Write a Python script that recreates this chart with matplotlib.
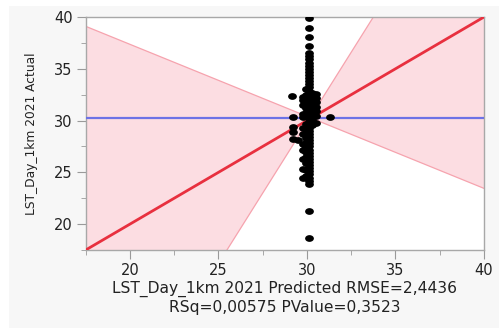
import numpy as np
import matplotlib
matplotlib.use("Agg")
import matplotlib.pyplot as plt
from matplotlib.patches import Rectangle
from matplotlib.path import Path
from matplotlib.transforms import Affine2D

# ---- data ----
col_main_y = [39.9, 38.9, 38.1, 37.2, 36.5, 36.2, 35.9, 35.6, 35.3, 35.0, 34.7, 34.4,
              34.1, 33.8, 33.5, 33.2, 32.9, 32.6, 32.3, 32.0, 31.7, 31.4, 31.1, 30.8,
              30.5, 30.2, 29.9, 29.6, 29.3, 29.0, 28.7, 28.4, 28.1, 27.8, 27.5, 27.2,
              26.9, 26.6, 26.3, 26.0, 25.7, 25.4, 25.1, 24.8, 24.5, 24.2, 23.9, 21.25, 18.65]
col_a_y = [33.0, 32.5, 32.0, 31.2, 30.7, 30.4, 29.7, 29.2, 28.8, 28.3, 27.8, 27.4,
           27.0, 26.5, 25.9, 25.2, 24.6]
col_b_y = [32.3, 32.0, 31.5, 30.6, 30.3, 29.3, 28.7, 27.7, 27.2, 26.3, 25.3, 24.5]
col_c_y = [32.7, 32.2, 31.6, 31.1, 30.6, 30.1, 29.6]
col_d_y = [32.6, 32.2, 31.8, 31.3, 30.9, 30.4, 29.8]
extra_x = [29.15, 29.2, 29.2, 29.2, 29.2, 29.5, 31.3]
extra_y = [32.4, 30.3, 29.4, 28.9, 28.2, 28.1, 30.3]

pred_x = ([30.1] * len(col_main_y) + [29.95] * len(col_a_y) + [29.8] * len(col_b_y)
          + [30.3] * len(col_c_y) + [30.5] * len(col_d_y) + extra_x)
actual_y = col_main_y + col_a_y + col_b_y + col_c_y + col_d_y + extra_y

mean_y = 30.2
fit_x = [17.5, 40.0]
fit_y = [17.5, 40.0]
band1_x = [17.5, 40.0]
band1_y = [39.1, 23.45]
band2_x = [25.48, 33.75]
band2_y = [17.5, 40.0]

xticks = [20, 25, 30, 35, 40]
yticks = [20, 25, 30, 35, 40]
xlabel = "LST_Day_1km 2021 Predicted RMSE=2,4436\nRSq=0,00575 PValue=0,3523"
ylabel = "LST_Day_1km 2021 Actual"

# ---- figure ----
W, H = 499, 328
plt.rcParams["font.family"] = ["DejaVu Sans"]
fig = plt.figure(figsize=(W / 100, H / 100), dpi=100)
fig.patch.set_facecolor("white")
fig.patches.append(Rectangle((9 / W, 0), 1 - 9 / W, 1 - 6 / H, transform=fig.transFigure,
                             facecolor="#f7f7f7", edgecolor="none", zorder=-10))

ax = fig.add_axes([85.7 / W, 1 - 250 / H, (484 - 85.7) / W, (250 - 17) / H])
ax.set_facecolor("white")
ax.set_xlim(17.5, 40)
ax.set_ylim(17.5, 40)

xs = np.linspace(17.5, 40, 400)
s1 = (band1_y[1] - band1_y[0]) / (band1_x[1] - band1_x[0])
s2 = (band2_y[1] - band2_y[0]) / (band2_x[1] - band2_x[0])
b1 = band1_y[0] + s1 * (xs - band1_x[0])
b2 = band2_y[0] + s2 * (xs - band2_x[0])
ax.fill_between(xs, np.minimum(b1, b2), np.maximum(b1, b2), color="#fcdde2", lw=0, zorder=1)
ax.plot(xs, b1, color="#f6a3ae", lw=0.9, zorder=2)
ax.plot(xs, b2, color="#f6a3ae", lw=0.9, zorder=2)
ax.axhline(mean_y, color="#6d72e6", lw=1.6, zorder=3)
ax.plot(fit_x, fit_y, color="#e8303f", lw=2.0, zorder=4, solid_capstyle="butt")

ellipse = Path.unit_circle().transformed(Affine2D().scale(1.3, 1.0))
ax.scatter(pred_x, actual_y, s=40, marker=ellipse, color="black", zorder=5, linewidths=0)

ax.set_xticks(xticks)
ax.set_yticks(yticks)
ax.set_xticks(np.arange(17.5, 40.01, 2.5), minor=True)
ax.set_yticks(np.arange(17.5, 40.01, 2.5), minor=True)
ax.tick_params(which="major", length=6.5, color="#9a9a9a", labelsize=10.5, labelcolor="#222222", pad=3)
ax.tick_params(which="minor", length=3.5, color="#9a9a9a")
for sp in ax.spines.values():
    sp.set_color("#a8a8a8")
    sp.set_linewidth(1.0)
ax.set_xlabel(xlabel, fontsize=11.2, color="#222222", labelpad=2, linespacing=1.25)
ax.set_ylabel(ylabel, fontsize=8.8, color="#222222", labelpad=11)

fig.savefig("out.png", dpi=100, facecolor=fig.get_facecolor())
